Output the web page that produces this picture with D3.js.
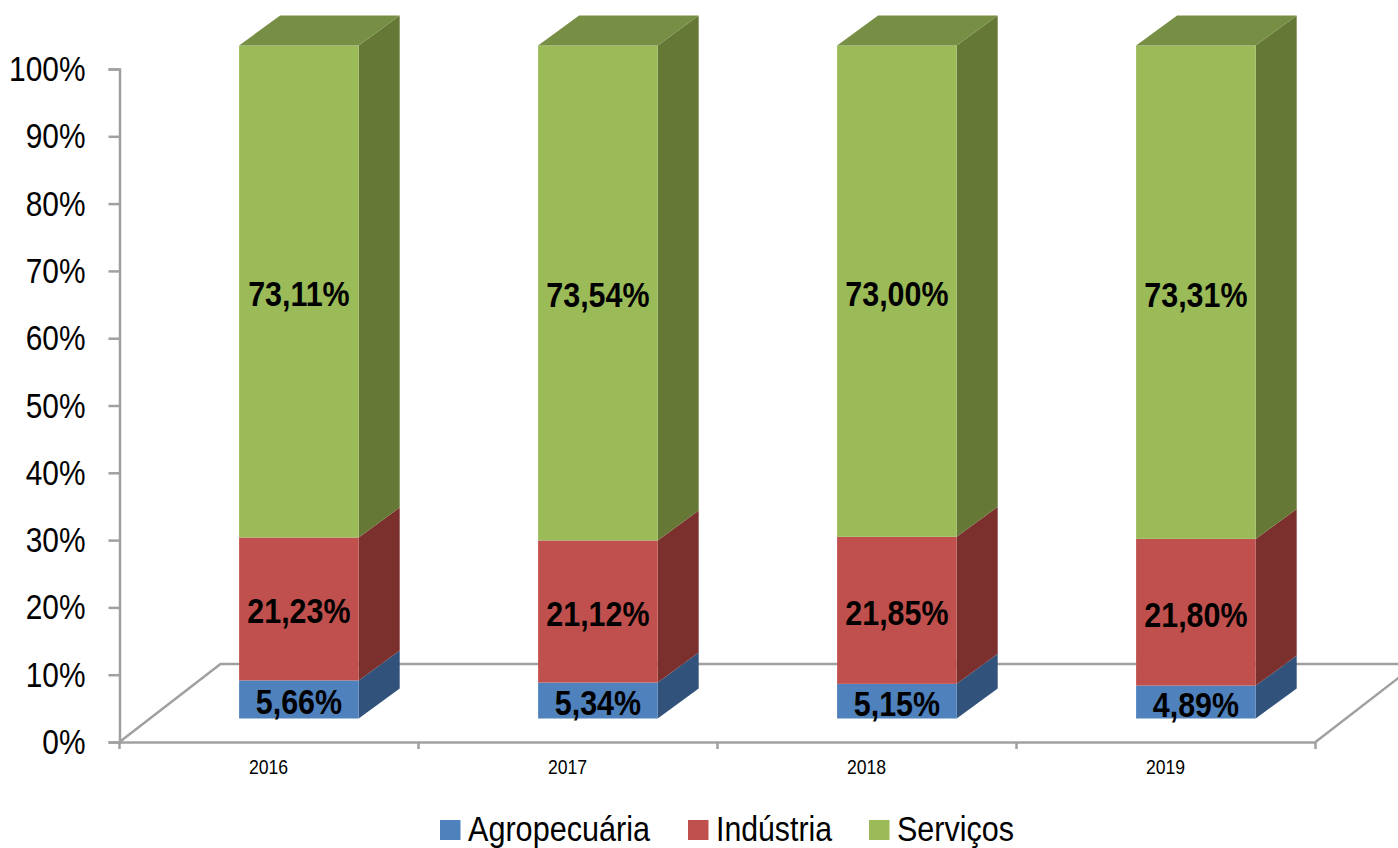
<!DOCTYPE html>
<html>
<head>
<meta charset="utf-8">
<script src="https://cdn.jsdelivr.net/npm/d3@7"></script>
<style>
  html, body { margin: 0; padding: 0; background: #fff; overflow: hidden; }
  text { font-family: "Liberation Sans", Arial, sans-serif; fill: #000; }
</style>
</head>
<body>
<svg id="chart" width="1398" height="848"></svg>
<script>
const years = ['2016', '2017', '2018', '2019'];
const seriesNames = ['Agropecuária', 'Indústria', 'Serviços'];
const agropecuaria = [5.66, 5.34, 5.15, 4.89];
const industria = [21.23, 21.12, 21.85, 21.80];
const servicos = [73.11, 73.54, 73.00, 73.31];
const yTicks = [0, 10, 20, 30, 40, 50, 60, 70, 80, 90, 100];

const frontColors = ['#4f81bd', '#c0504d', '#9bbb59'];
const sideColors = ['#31527b', '#7b302e', '#667835'];
const topColor = '#778f45';
const axisColor = '#a0a0a0';

const svg = d3.select('#chart');

// fake 3d: floor and bars are sheared by these offsets
const depthX = 101, depthY = -78;
const barDepthX = 41, barDepthY = -30;
const frontX = 0, frontY = -23.5;

const x = d3.scaleBand().domain(years).range([119.5, 1315.5]);
const y = d3.scaleLinear().domain([0, 100]).range([742, 69]);

const rows = years.map((year, i) => ({
  year,
  [seriesNames[0]]: agropecuaria[i],
  [seriesNames[1]]: industria[i],
  [seriesNames[2]]: servicos[i],
}));
const stacked = d3.stack().keys(seriesNames)(rows);

const fmt = d => d.toFixed(2).replace('.', ',') + '%';

// floor
const floor = svg.append('g').attr('fill', 'none').attr('stroke', axisColor).attr('stroke-width', 2.5);
const x0 = x.range()[0], x1 = x.range()[1], y0 = y(0);
floor.append('path').attr('d', `M${x0},${y0}L${x0 + depthX},${y0 + depthY}L1400,${y0 + depthY}`);
floor.append('path').attr('d', `M${x1},${y0}L${x1 + depthX},${y0 + depthY}`);

// axes
const yAxis = svg.append('g')
  .attr('transform', `translate(${x0},0)`)
  .call(d3.axisLeft(y).tickValues(yTicks).tickFormat(d => d + '%').tickSize(11).tickPadding(30));
yAxis.selectAll('path, line').attr('stroke', axisColor).attr('stroke-width', 2.5);
yAxis.selectAll('text')
  .attr('font-size', 36)
  .attr('font-family', null)
  .attr('transform', 'scale(0.83,1)');

const xAxis = svg.append('g')
  .attr('transform', `translate(0,${y0})`)
  .call(d3.axisBottom(x).tickSize(0).tickPadding(17));
xAxis.select('.domain').attr('stroke', axisColor).attr('stroke-width', 2.5);
xAxis.selectAll('.tick text')
  .attr('font-size', 21)
  .attr('font-family', null)
  .attr('transform', 'translate(-0.5,0) scale(0.84,1)')
  .attr('x', 0);
// keep year labels centred after the squeeze
xAxis.selectAll('.tick').attr('transform', d => `translate(${x(d) + x.step() / 2},0)`);

xAxis.selectAll('.bound')
  .data(d3.range(years.length + 1))
  .join('line')
  .attr('class', 'bound')
  .attr('x1', i => x0 + i * x.step())
  .attr('x2', i => x0 + i * x.step())
  .attr('y1', 0)
  .attr('y2', 7)
  .attr('stroke', axisColor)
  .attr('stroke-width', 2.5);

// bars
const barLeft = d => x(d.data.year) + x.step() * 0.4 + frontX;
const barRight = d => barLeft(d) + x.step() * 0.4;
const barY = v => y(v) + frontY;

const layers = svg.selectAll('.layer').data(stacked).join('g').attr('class', 'layer');

layers.each(function (layer, si) {
  const g = d3.select(this);

  g.selectAll('.side').data(layer).join('polygon')
    .attr('class', 'side')
    .attr('fill', sideColors[si])
    .attr('points', d => [
      [barRight(d), barY(d[0])],
      [barRight(d) + barDepthX, barY(d[0]) + barDepthY],
      [barRight(d) + barDepthX, barY(d[1]) + barDepthY],
      [barRight(d), barY(d[1])],
    ].join(' '));

  g.selectAll('.front').data(layer).join('rect')
    .attr('class', 'front')
    .attr('fill', frontColors[si])
    .attr('x', barLeft)
    .attr('y', d => barY(d[1]))
    .attr('width', x.step() * 0.4)
    .attr('height', d => barY(d[0]) - barY(d[1]));

  // only the top series shows its lid
  if (si === stacked.length - 1) {
    g.selectAll('.lid').data(layer).join('polygon')
      .attr('class', 'lid')
      .attr('fill', topColor)
      .attr('points', d => [
        [barLeft(d), barY(d[1])],
        [barLeft(d) + barDepthX, barY(d[1]) + barDepthY],
        [barRight(d) + barDepthX, barY(d[1]) + barDepthY],
        [barRight(d), barY(d[1])],
      ].join(' '));
  }
});

// value labels
layers.each(function (layer) {
  d3.select(this).selectAll('.value').data(layer).join('text')
    .attr('class', 'value')
    .attr('text-anchor', 'middle')
    .attr('font-size', 36)
    .attr('font-weight', 'bold')
    .attr('transform', d => `translate(${(barLeft(d) + barRight(d)) / 2},${(barY(d[0]) + barY(d[1])) / 2 + 14.5}) scale(0.845,1)`)
    .text(d => fmt(d[1] - d[0]));
});

// legend
const legendSwatchX = [440, 688, 869];
const legend = svg.selectAll('.legend').data(seriesNames).join('g')
  .attr('class', 'legend')
  .attr('transform', (d, i) => `translate(${legendSwatchX[i]},820)`);
legend.append('rect')
  .attr('width', 20.5)
  .attr('height', 20)
  .attr('fill', (d, i) => frontColors[i]);
legend.append('text')
  .attr('x', 28)
  .attr('y', 21)
  .attr('font-size', 35)
  .attr('textLength', (d, i) => [182, 116, 117][i])
  .attr('lengthAdjust', 'spacingAndGlyphs')
  .text(d => d);
</script>
</body>
</html>
